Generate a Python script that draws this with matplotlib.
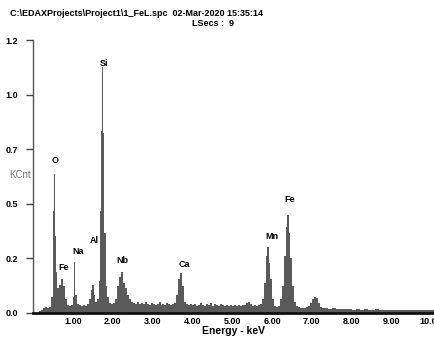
import matplotlib.pyplot as plt

plt.rcParams['font.family'] = ['Liberation Sans', 'DejaVu Sans']

# spectrum: bin start energy (keV) and height (KCnt)
energy_kev = [0.00, 0.10, 0.15, 0.20, 0.25, 0.30, 0.35, 0.40, 0.45, 0.50,
              0.52, 0.54, 0.58, 0.60, 0.65, 0.70, 0.75, 0.80, 0.85, 0.90,
              0.95, 1.00, 1.03, 1.06, 1.10, 1.15, 1.20, 1.25, 1.30, 1.35,
              1.40, 1.45, 1.48, 1.52, 1.55, 1.60, 1.65, 1.68, 1.70, 1.74,
              1.755, 1.79, 1.82, 1.85, 1.90, 1.95, 2.00, 2.05, 2.10, 2.15,
              2.20, 2.25, 2.30, 2.35, 2.40, 2.45, 2.50, 2.55, 2.60, 2.65,
              2.70, 2.75, 2.80, 2.85, 2.90, 2.95, 3.00, 3.05, 3.10, 3.15,
              3.20, 3.25, 3.30, 3.35, 3.40, 3.45, 3.50, 3.55, 3.60, 3.65,
              3.70, 3.75, 3.80, 3.85, 3.90, 3.95, 4.00, 4.05, 4.10, 4.15,
              4.20, 4.25, 4.30, 4.35, 4.40, 4.45, 4.50, 4.55, 4.60, 4.65,
              4.70, 4.75, 4.80, 4.85, 4.90, 4.95, 5.00, 5.05, 5.10, 5.15,
              5.20, 5.25, 5.30, 5.35, 5.40, 5.45, 5.50, 5.55, 5.60, 5.65,
              5.70, 5.75, 5.80, 5.85, 5.88, 5.92, 5.95, 6.00, 6.05, 6.10,
              6.15, 6.20, 6.25, 6.30, 6.35, 6.38, 6.42, 6.45, 6.50, 6.55,
              6.60, 6.65, 6.70, 6.75, 6.80, 6.85, 6.90, 6.95, 7.00, 7.05,
              7.10, 7.15, 7.20, 7.25, 7.30, 7.40, 7.50, 7.60, 7.70, 7.80,
              7.90, 8.00, 8.10, 8.20, 8.30, 8.40, 8.50, 8.60, 8.70, 8.80,
              8.90, 9.00, 9.10, 9.20, 9.30, 9.40, 9.50, 9.60, 9.70, 9.80,
              9.90, 10.00]
kcnt = [0.0, 0.0, 0.008, 0.015, 0.022, 0.025, 0.02, 0.028, 0.07, 0.45,
        0.61, 0.34, 0.18, 0.11, 0.125, 0.15, 0.12, 0.06, 0.035, 0.03,
        0.035, 0.07, 0.225, 0.08, 0.04, 0.035, 0.03, 0.035, 0.03, 0.04,
        0.06, 0.10, 0.123, 0.08, 0.05, 0.06, 0.14, 0.45, 0.80, 1.08,
        0.79, 0.35, 0.12, 0.07, 0.045, 0.04, 0.045, 0.06, 0.12, 0.16,
        0.18, 0.13, 0.11, 0.08, 0.06, 0.05, 0.045, 0.04, 0.05, 0.04,
        0.045, 0.04, 0.05, 0.04, 0.035, 0.045, 0.04, 0.035, 0.04, 0.05,
        0.035, 0.04, 0.035, 0.045, 0.04, 0.035, 0.04, 0.045, 0.08, 0.15,
        0.175, 0.12, 0.05, 0.04, 0.035, 0.04, 0.035, 0.04, 0.03, 0.035,
        0.045, 0.035, 0.03, 0.04, 0.035, 0.045, 0.03, 0.04, 0.035, 0.03,
        0.04, 0.035, 0.03, 0.035, 0.03, 0.035, 0.03, 0.035, 0.03, 0.035,
        0.03, 0.035, 0.035, 0.045, 0.05, 0.04, 0.03, 0.035, 0.03, 0.035,
        0.04, 0.06, 0.13, 0.25, 0.29, 0.22, 0.15, 0.06, 0.03, 0.025,
        0.03, 0.06, 0.12, 0.25, 0.38, 0.43, 0.35, 0.24, 0.12, 0.05,
        0.03, 0.025, 0.02, 0.022, 0.02, 0.025, 0.03, 0.045, 0.06, 0.07,
        0.065, 0.045, 0.025, 0.02, 0.02, 0.018, 0.02, 0.017, 0.018, 0.016,
        0.018, 0.015, 0.017, 0.015, 0.016, 0.014, 0.015, 0.016, 0.013, 0.015,
        0.014, 0.013, 0.015, 0.013, 0.014, 0.012, 0.013, 0.012, 0.013, 0.012,
        0.012, 0.011]
edges = energy_kev + [10.10]

# element labels: name, energy, height
peak_names = ['O', 'Fe', 'Na', 'Al', 'Si', 'Nb', 'Ca', 'Mn', 'Fe']
peak_x = [0.55, 0.76, 1.14, 1.54, 1.78, 2.25, 3.79, 6.01, 6.45]
peak_y = [0.67, 0.20, 0.27, 0.32, 1.095, 0.23, 0.215, 0.335, 0.50]

ytick_pos = [0.0, 0.24, 0.48, 0.72, 0.96, 1.2]
ytick_lab = ['0.0', '0.2', '0.5', '0.7', '1.0', '1.2']
xtick_pos = [1, 2, 3, 4, 5, 6, 7, 8, 9, 10]
xtick_lab = ['1.00', '2.00', '3.00', '4.00', '5.00', '6.00', '7.00', '8.00', '9.00', '10.00']

fig = plt.figure(figsize=(4.34, 3.39), dpi=100)
ax = fig.add_axes([0.0763, 0.0767, 0.9237, 0.805])
ax.stairs(kcnt, edges, fill=True, color='#5a5a5a', linewidth=0)

ax.set_xlim(0, 10.07)
ax.set_ylim(0, 1.2)
ax.set_yticks(ytick_pos)
ax.set_yticklabels(ytick_lab)
ax.set_xticks(xtick_pos)
ax.set_xticklabels(xtick_lab)
for lab in ax.get_xticklabels() + ax.get_yticklabels():
    lab.set_fontweight('bold')
ax.tick_params(axis='y', length=5, width=1, color='#444444', labelsize=6.5, pad=6)
ax.tick_params(axis='x', length=0, labelsize=6.5, pad=3)

for s in ['top', 'right']:
    ax.spines[s].set_visible(False)
ax.spines['left'].set_color('#555555')
ax.spines['left'].set_linewidth(1)
ax.spines['bottom'].set_color('#111111')
ax.spines['bottom'].set_linewidth(2)

for name, x, y in zip(peak_names, peak_x, peak_y):
    ax.text(x, y, name, ha='center', va='center', fontsize=6.5, fontweight='bold')

ax.set_xlabel('Energy - keV', fontsize=7.5, fontweight='bold', labelpad=0)
fig.text(20 / 434, 1 - 175 / 339, 'KCnt', ha='center', va='center',
         fontsize=7, color='#777777')
fig.text(10 / 434, 1 - 13 / 339,
         'C:\\EDAXProjects\\Project1\\1_FeL.spc  02-Mar-2020 15:35:14',
         ha='left', va='center', fontsize=6.5, fontweight='bold')
fig.text(213 / 434, 1 - 24 / 339, 'LSecs :  9', ha='center', va='center',
         fontsize=6.5, fontweight='bold')

fig.savefig('out.png', dpi=100)
